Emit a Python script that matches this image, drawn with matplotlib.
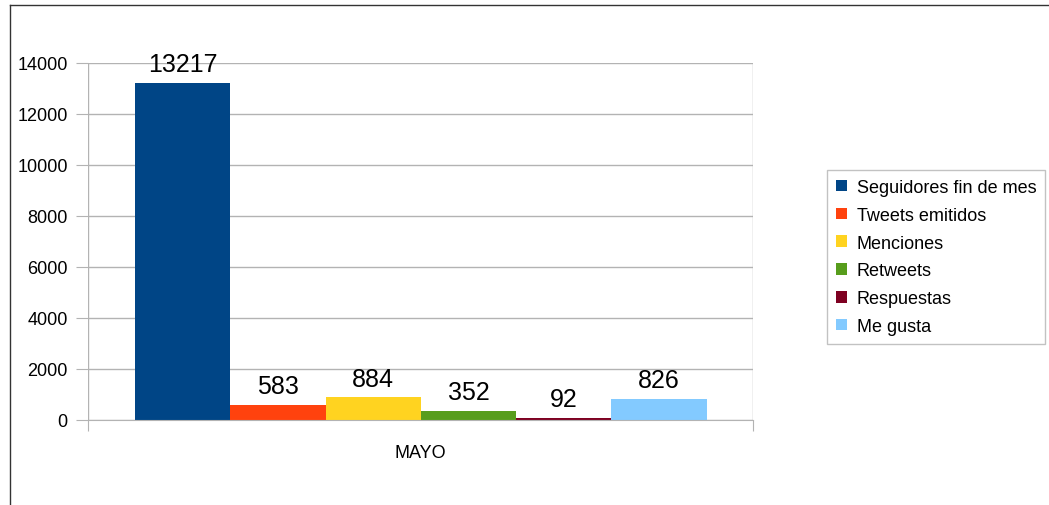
import matplotlib.pyplot as plt
from matplotlib.lines import Line2D

plt.rcParams['font.family'] = ['Liberation Sans', 'DejaVu Sans']

series = ['Seguidores fin de mes', 'Tweets emitidos', 'Menciones', 'Retweets', 'Respuestas', 'Me gusta']
values = [13217, 583, 884, 352, 92, 826]
colors = ['#004586', '#ff420e', '#ffd320', '#579d1c', '#7e0021', '#83caff']
category = 'MAYO'

fig = plt.figure(figsize=(10.49, 5.06), dpi=100)
ax = fig.add_axes([88 / 1049, 1 - 421 / 506, 665 / 1049, (421 - 64) / 506])

bar_w = 0.1433
start = -0.5 + 47 / 665
for i, (name, v, c) in enumerate(zip(series, values, colors)):
    x = start + bar_w * (i + 0.5)
    ax.bar(x, v, width=bar_w, color=c, label=name, zorder=3)
    ax.annotate(str(v), (x, v), xytext=(0, 5), textcoords='offset points',
                ha='center', va='bottom', fontsize=18)

ax.set_xlim(-0.5, 0.5)
ax.set_ylim(0, 14000)
ax.set_yticks(range(0, 14001, 2000))
ax.set_xticks([-0.5, 0.5])
ax.set_xticklabels(['', ''])
ax.grid(axis='y', color='#b3b3b3', linewidth=1, zorder=0)
ax.axvline(-0.5, color='#b3b3b3', linewidth=1, zorder=0)
ax.axvline(0.5, color='#b3b3b3', linewidth=1, zorder=0)
for s in ['top', 'right', 'left']:
    ax.spines[s].set_visible(False)
ax.spines['bottom'].set_color('#b3b3b3')
ax.spines['bottom'].set_zorder(4)
ax.tick_params(axis='y', length=8.6, color='#b3b3b3', labelsize=13, pad=6)
ax.tick_params(axis='x', length=8, color='#b3b3b3')
ax.text(0.5, -0.09, category, transform=ax.transAxes, ha='center', va='center', fontsize=13)

leg = ax.legend(loc='center left', bbox_to_anchor=(827 / 1049, 1 - 258 / 506),
                bbox_transform=fig.transFigure, fontsize=13, frameon=True,
                fancybox=False, edgecolor='#b3b3b3', handlelength=0.6, handleheight=0.6,
                handletextpad=0.55, labelspacing=0.6, borderpad=0.5, borderaxespad=0)
leg.get_frame().set_linewidth(1)

fig.add_artist(Line2D([9.5 / 1049, 9.5 / 1049], [0, 1 - 5.5 / 506], color='#333333', linewidth=1))
fig.add_artist(Line2D([9.5 / 1049, 1], [1 - 5.5 / 506, 1 - 5.5 / 506], color='#333333', linewidth=1))

fig.savefig('out.png', dpi=100)
